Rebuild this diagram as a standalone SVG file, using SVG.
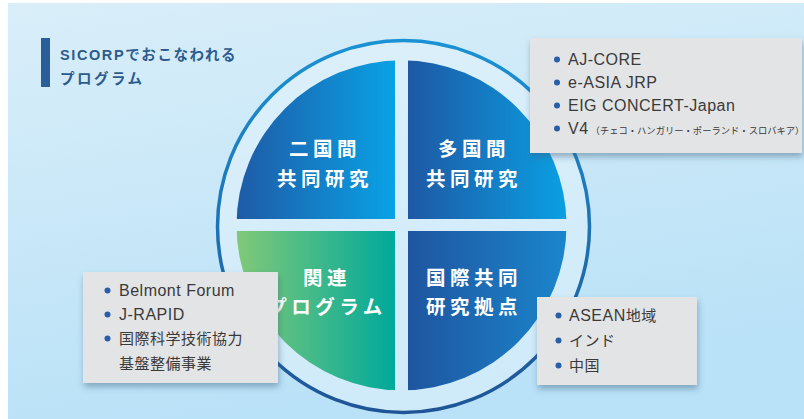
<svg xmlns="http://www.w3.org/2000/svg" width="804" height="419" viewBox="0 0 804 419">
<style>
.qt{font-family:"Noto Sans CJK JP",sans-serif;font-weight:700;font-size:19.5px;fill:#ffffff;letter-spacing:4.5px;text-anchor:middle}
.bx{fill:#e3e4e6}
.it{font-family:"Liberation Sans","Noto Sans CJK JP",sans-serif;font-size:16px;fill:#3a3a3a;letter-spacing:0.5px}
.jp{font-size:15px}
.bul{fill:#2a5fa7}
.ttl{font-family:"Liberation Sans","Noto Sans CJK JP",sans-serif;font-weight:700;font-size:14.5px;fill:#2d5b8e;letter-spacing:1.6px}
</style>
<defs>
<linearGradient id="bg" x1="0" y1="0" x2="0.3" y2="1">
<stop offset="0" stop-color="#d9eef9"/>
<stop offset="1" stop-color="#b9e1f7"/>
</linearGradient>
<linearGradient id="ring" x1="0" y1="0" x2="0" y2="1">
<stop offset="0" stop-color="#1a92d3"/>
<stop offset="1" stop-color="#1f5596"/>
</linearGradient>
<linearGradient id="gTL" x1="0" y1="0" x2="1" y2="0">
<stop offset="0" stop-color="#1f5aa6"/>
<stop offset="1" stop-color="#09a2e5"/>
</linearGradient>
<linearGradient id="gTR" x1="0" y1="0" x2="1" y2="0">
<stop offset="0" stop-color="#1e58a4"/>
<stop offset="1" stop-color="#0aa0e3"/>
</linearGradient>
<linearGradient id="gBL" x1="0" y1="0" x2="1" y2="0">
<stop offset="0" stop-color="#82c978"/>
<stop offset="1" stop-color="#00a99b"/>
</linearGradient>
<linearGradient id="gBR" x1="0" y1="0" x2="1" y2="0">
<stop offset="0" stop-color="#1f55a0"/>
<stop offset="1" stop-color="#1a86cc"/>
</linearGradient>
<clipPath id="disc"><circle cx="401.5" cy="225.3" r="165"/></clipPath>
<filter id="sh" x="-10%" y="-10%" width="125%" height="135%">
<feDropShadow dx="1" dy="4" stdDeviation="3" flood-color="#3a5f7a" flood-opacity="0.45"/>
</filter>
</defs>

<rect x="0" y="0" width="804" height="419" fill="#ffffff"/>
<rect x="8" y="3" width="796" height="416" fill="url(#bg)"/>

<g id="title">
<rect x="41" y="38" width="9" height="49" fill="#2a5e9a"/>
<text class="ttl" x="60" y="60">SICORPでおこなわれる</text>
<text class="ttl" x="60" y="84" style="letter-spacing:2.5px">プログラム</text>
</g>

<g id="ring">
<circle cx="403.5" cy="226.5" r="186" fill="#e2f2fb" fill-opacity="0.55" stroke="url(#ring)" stroke-width="3.5"/>
</g>

<g id="quad-bilateral">
<rect x="236" y="60" width="159" height="159" fill="url(#gTL)" clip-path="url(#disc)"/>
<text class="qt" x="325" y="156">二国間</text>
<text class="qt" x="325" y="186">共同研究</text>
</g>
<g id="quad-multilateral">
<rect x="408" y="60" width="159" height="159" fill="url(#gTR)" clip-path="url(#disc)"/>
<text class="qt" x="474" y="156">多国間</text>
<text class="qt" x="474" y="186">共同研究</text>
</g>
<g id="quad-related">
<rect x="236" y="231" width="159" height="160" fill="url(#gBL)" clip-path="url(#disc)"/>
<text class="qt" x="327" y="285">関連</text>
<text class="qt" x="327" y="314">プログラム</text>
</g>
<g id="quad-hub">
<rect x="408" y="231" width="159" height="160" fill="url(#gBR)" clip-path="url(#disc)"/>
<text class="qt" x="474" y="285">国際共同</text>
<text class="qt" x="474" y="314">研究拠点</text>
</g>

<g id="box-multilateral">
<rect class="bx" x="530" y="38" width="272" height="115" filter="url(#sh)"/>
<circle class="bul" cx="557" cy="59.5" r="3"/>
<text class="it" x="568" y="65">AJ-CORE</text>
<circle class="bul" cx="557" cy="82.5" r="3"/>
<text class="it" x="568" y="88">e-ASIA JRP</text>
<circle class="bul" cx="557" cy="105.5" r="3"/>
<text class="it" x="568" y="111">EIG CONCERT-Japan</text>
<circle class="bul" cx="557" cy="128.5" r="3"/>
<text class="it" x="568" y="134" font-size="17px">V4<tspan font-size="9.3px" dx="2" letter-spacing="0">（チェコ・ハンガリー・ポーランド・スロバキア）</tspan></text>
</g>

<g id="box-related">
<rect class="bx" x="83" y="272" width="195" height="111" filter="url(#sh)"/>
<circle class="bul" cx="107.5" cy="290.5" r="3"/>
<text class="it" x="119" y="296">Belmont Forum</text>
<circle class="bul" cx="107.5" cy="314.5" r="3"/>
<text class="it" x="119" y="320">J-RAPID</text>
<circle class="bul" cx="107.5" cy="338.5" r="3"/>
<text class="it jp" x="119" y="344">国際科学技術協力</text>
<text class="it jp" x="119" y="369">基盤整備事業</text>
</g>

<g id="box-hub">
<rect class="bx" x="537" y="297" width="160" height="88" filter="url(#sh)"/>
<circle class="bul" cx="558.5" cy="315.5" r="3"/>
<text class="it" x="569" y="321">ASEAN<tspan class="jp">地域</tspan></text>
<circle class="bul" cx="558.5" cy="340.5" r="3"/>
<text class="it jp" x="569" y="346">インド</text>
<circle class="bul" cx="558.5" cy="365.5" r="3"/>
<text class="it jp" x="569" y="371">中国</text>
</g>

<g id="connectors"></g>
</svg>
